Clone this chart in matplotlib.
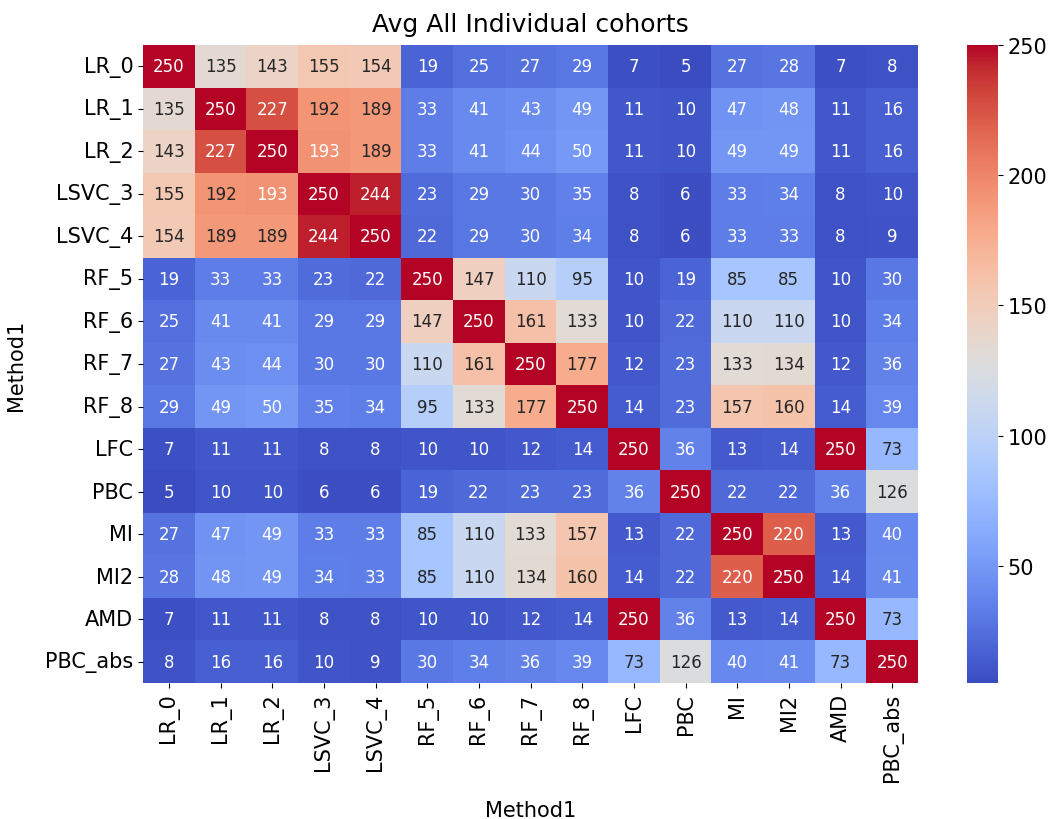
import numpy as np
import matplotlib
matplotlib.use("Agg")
from matplotlib import pyplot as plt
import seaborn as sns

methods = ["LR_0", "LR_1", "LR_2", "LSVC_3", "LSVC_4", "RF_5", "RF_6", "RF_7",
           "RF_8", "LFC", "PBC", "MI", "MI2", "AMD", "PBC_abs"]

# pairwise overlap counts, one row per method
LR_0 = [250, 135, 143, 155, 154, 19, 25, 27, 29, 7, 5, 27, 28, 7, 8]
LR_1 = [135, 250, 227, 192, 189, 33, 41, 43, 49, 11, 10, 47, 48, 11, 16]
LR_2 = [143, 227, 250, 193, 189, 33, 41, 44, 50, 11, 10, 49, 49, 11, 16]
LSVC_3 = [155, 192, 193, 250, 244, 23, 29, 30, 35, 8, 6, 33, 34, 8, 10]
LSVC_4 = [154, 189, 189, 244, 250, 22, 29, 30, 34, 8, 6, 33, 33, 8, 9]
RF_5 = [19, 33, 33, 23, 22, 250, 147, 110, 95, 10, 19, 85, 85, 10, 30]
RF_6 = [25, 41, 41, 29, 29, 147, 250, 161, 133, 10, 22, 110, 110, 10, 34]
RF_7 = [27, 43, 44, 30, 30, 110, 161, 250, 177, 12, 23, 133, 134, 12, 36]
RF_8 = [29, 49, 50, 35, 34, 95, 133, 177, 250, 14, 23, 157, 160, 14, 39]
LFC = [7, 11, 11, 8, 8, 10, 10, 12, 14, 250, 36, 13, 14, 250, 73]
PBC = [5, 10, 10, 6, 6, 19, 22, 23, 23, 36, 250, 22, 22, 36, 126]
MI = [27, 47, 49, 33, 33, 85, 110, 133, 157, 13, 22, 250, 220, 13, 40]
MI2 = [28, 48, 49, 34, 33, 85, 110, 134, 160, 14, 22, 220, 250, 14, 41]
AMD = [7, 11, 11, 8, 8, 10, 10, 12, 14, 250, 36, 13, 14, 250, 73]
PBC_abs = [8, 16, 16, 10, 9, 30, 34, 36, 39, 73, 126, 40, 41, 73, 250]

mat = np.array([LR_0, LR_1, LR_2, LSVC_3, LSVC_4, RF_5, RF_6, RF_7, RF_8,
                LFC, PBC, MI, MI2, AMD, PBC_abs])

fig = plt.figure(figsize=(10.58, 8.2), dpi=100)
ax = fig.add_axes([0.1352, 0.1659, 0.7325, 0.778])
cax = fig.add_axes([0.914, 0.1659, 0.0293, 0.778])

sns.heatmap(mat, annot=True, fmt="d", cmap="coolwarm", ax=ax, cbar_ax=cax,
            xticklabels=methods, yticklabels=methods,
            annot_kws={"fontsize": 12})

ax.set_title("Avg All Individual cohorts", fontsize=18, pad=10)
ax.set_xlabel("Method1", fontsize=15, labelpad=14)
ax.set_ylabel("Method1", fontsize=15, labelpad=14)
ax.tick_params(axis="x", labelsize=15, rotation=90)
ax.tick_params(axis="y", labelsize=15, rotation=0)
cax.tick_params(labelsize=15)

fig.savefig("out.png", dpi=100)
